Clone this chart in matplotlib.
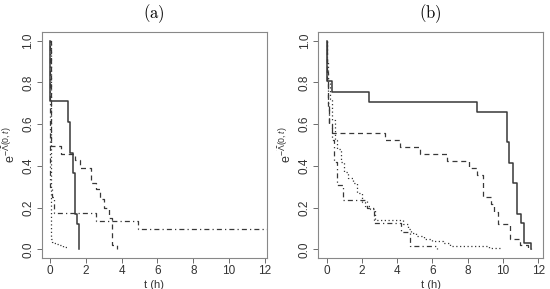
import numpy as np
import matplotlib
matplotlib.use('Agg')
import matplotlib.pyplot as plt

plt.rcParams['font.family'] = ['Liberation Sans', 'DejaVu Sans']
plt.rcParams['mathtext.fontset'] = 'custom'
plt.rcParams['mathtext.rm'] = 'Liberation Sans'
plt.rcParams['mathtext.it'] = 'Liberation Sans:italic'

# panel (a)
a_solid_t = [0, 0.02, 1.02, 1.1, 1.27, 1.38, 1.49, 1.62]
a_solid_s = [1.0, 0.71, 0.61, 0.46, 0.365, 0.17, 0.12, 0.0]
a_dash_t = [0, 0.03, 0.61, 1.4, 1.65, 2.27, 2.55, 2.8, 3.0, 3.3, 3.48, 3.72]
a_dash_s = [1.0, 0.495, 0.457, 0.428, 0.391, 0.32, 0.288, 0.24, 0.2, 0.15, 0.02, 0.0]
a_dot_t = [0, 0.03, 0.06, 0.1, 0.2, 0.35, 0.5, 0.7, 0.95]
a_dot_s = [1.0, 0.12, 0.05, 0.035, 0.03, 0.025, 0.02, 0.012, 0.0]
a_dd_t = [0, 0.02, 0.1, 0.19, 2.55, 4.93, 12.5]
a_dd_s = [1.0, 0.3, 0.25, 0.176, 0.136, 0.096, 0.096]

# panel (b)
b_solid_t = [0, 0.02, 0.3, 2.42, 8.56, 10.21, 10.36, 10.55, 10.81, 11.02, 11.19, 11.6]
b_solid_s = [1.0, 0.805, 0.756, 0.706, 0.66, 0.516, 0.412, 0.316, 0.169, 0.125, 0.029, 0.0]
b_dash_t = [0, 0.03, 0.08, 0.15, 0.32, 3.31, 4.16, 5.29, 6.84, 8.09, 8.55, 8.85, 9.3, 9.5,
            9.75, 10.4, 10.97, 11.44, 11.6]
b_dash_s = [1.0, 0.8, 0.68, 0.6, 0.56, 0.524, 0.492, 0.457, 0.425, 0.388, 0.356, 0.252, 0.22, 0.18,
            0.12, 0.049, 0.02, 0.005, 0.0]
b_dot_t = [0, 0.05, 0.1, 0.2, 0.3, 0.47, 0.6, 0.8, 1.0, 1.2, 1.51, 1.7, 1.99, 2.2, 2.46, 2.74,
           4.35, 4.6, 4.8, 5.1, 5.5, 6.0, 6.6, 7.0, 9.2, 9.9]
b_dot_s = [1.0, 0.9, 0.8, 0.72, 0.62, 0.524, 0.48, 0.42, 0.37, 0.34, 0.316, 0.27, 0.228, 0.21, 0.196, 0.14,
           0.12, 0.1, 0.08, 0.065, 0.05, 0.04, 0.03, 0.015, 0.008, 0.005]
b_dd_t = [0, 0.03, 0.08, 0.15, 0.28, 0.4, 0.57, 0.95, 2.3, 2.7, 4.25, 4.73, 6.24]
b_dd_s = [1.0, 0.85, 0.7, 0.6, 0.524, 0.42, 0.31, 0.236, 0.2, 0.125, 0.084, 0.016, 0.0]

xticks = [0, 2, 4, 6, 8, 10, 12]
yticks = [0.0, 0.2, 0.4, 0.6, 0.8, 1.0]

lc = '#383838'
styles = ['-', (0, (4, 3)), (0, (1, 2)), (0, (1, 2.5, 4, 2.5))]

fig = plt.figure(figsize=(5.5, 2.89), dpi=100)
ax1 = fig.add_axes([0.0758, 0.108, 0.409, 0.780])
ax2 = fig.add_axes([0.5787, 0.108, 0.409, 0.780])

panels = [
    (ax1, [(a_solid_t, a_solid_s), (a_dash_t, a_dash_s), (a_dot_t, a_dot_s), (a_dd_t, a_dd_s)],
     (-0.47, 12.1), '(a)'),
    (ax2, [(b_solid_t, b_solid_s), (b_dash_t, b_dash_s), (b_dot_t, b_dot_s), (b_dd_t, b_dd_s)],
     (-0.47, 12.29), '(b)'),
]

for ax, curves, xl, title in panels:
    for (t, s), ls in zip(curves, styles):
        ax.step(t, s, where='post', color=lc, linestyle=ls,
                linewidth=1.1 if ls == '-' else 0.9)
    ax.set_xlim(xl)
    ax.set_ylim(-0.04, 1.04)
    ax.set_xticks(xticks)
    ax.set_yticks(yticks)
    ax.set_yticklabels(['%.1f' % v for v in yticks], rotation=90, va='center')
    ax.tick_params(length=3.5, width=0.6, color='#555555', labelsize=8.5,
                   labelcolor='#333333', pad=2)
    for sp in ax.spines.values():
        sp.set_color('#888888')
        sp.set_linewidth(0.8)
    ax.set_xlabel('t (h)', fontsize=8, color='#333333', labelpad=1.5)
    ax.set_ylabel(r'$\mathrm{e}^{-\widetilde{\Lambda}(0,t)}$', fontsize=9, color='#333333', labelpad=3)
    ax.set_title(r'$\mathrm{' + title + '}$', math_fontfamily='cm', fontsize=12, pad=10)

fig.savefig('out.png', dpi=100)
